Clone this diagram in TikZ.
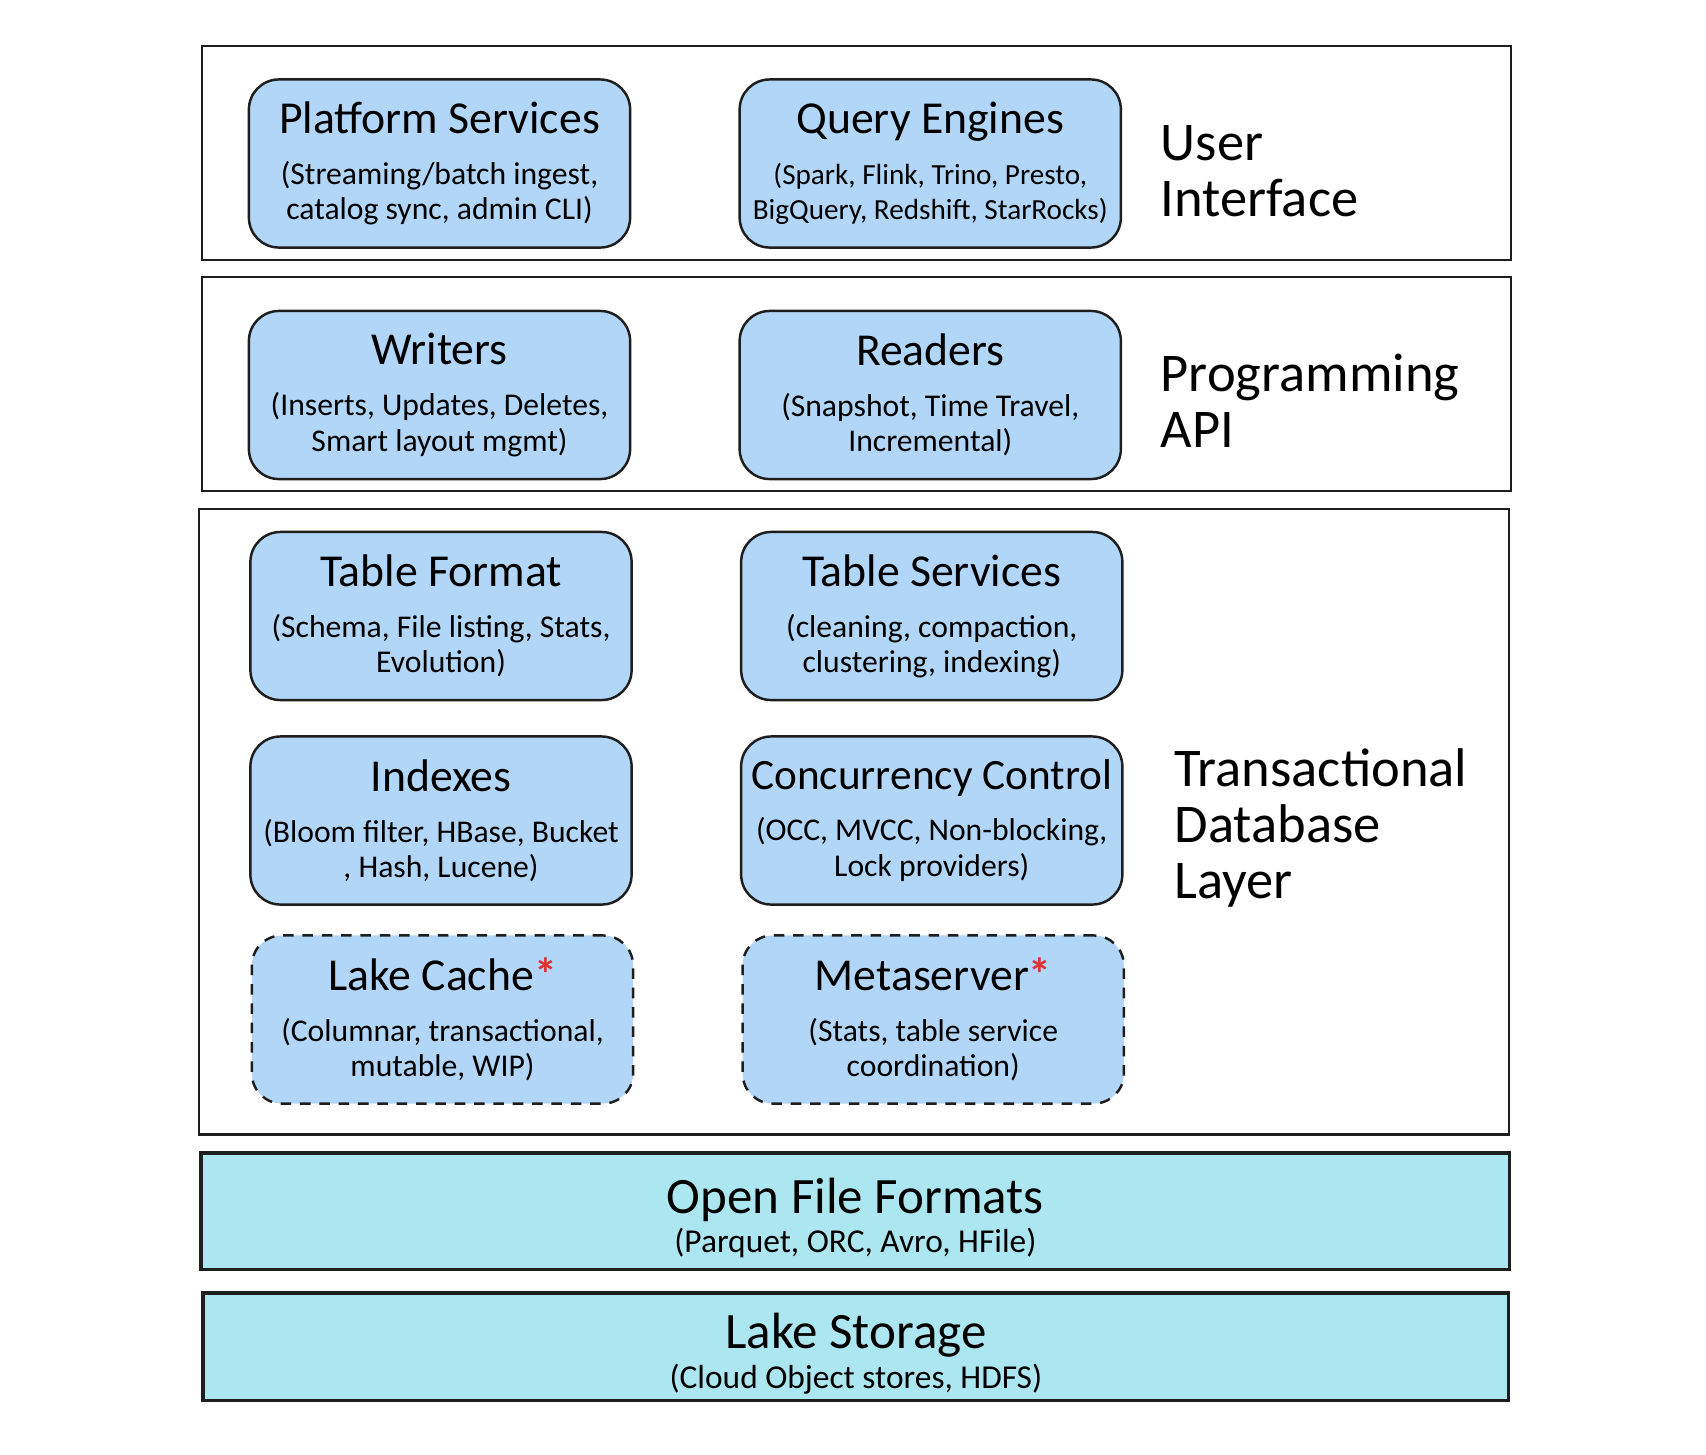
\documentclass[tikz,border=0pt]{standalone}
\usepackage{fontspec}
\setmainfont{Carlito}
\usetikzlibrary{positioning}
\definecolor{compblue}{RGB}{177,214,247}
\definecolor{basecyan}{RGB}{172,230,240}
\definecolor{inkblack}{RGB}{30,30,30}
\definecolor{starred}{RGB}{224,49,49}
\tikzstyle{layer} = [rectangle, draw=inkblack, line width=0.7pt, anchor=north west, inner sep=0pt, outer sep=0pt]
\tikzstyle{comp} = [rectangle, rounded corners=0.3cm, draw=inkblack, fill=compblue, line width=0.7pt, minimum width=3.81cm, minimum height=1.68cm, inner xsep=0pt, align=center, font=\fontsize{9}{10}\selectfont]
\tikzstyle{planned} = [comp, dashed, dash pattern=on 3pt off 2.5pt]
\tikzstyle{base} = [layer, fill=basecyan, line width=0.9pt, align=center, font=\fontsize{9.5}{11}\selectfont]
\tikzstyle{side} = [anchor=west, align=left, inner sep=0pt, font=\fontsize{15.5}{16}\selectfont]
\newcommand{\comptitle}[2][13]{{\fontsize{#1}{15}\selectfont #2}}
\newcommand{\basetitle}[1]{{\fontsize{14.5}{16}\selectfont\rule{0pt}{14pt}#1}}
\newcommand{\wip}{\textcolor{starred}{\bfseries*}}

\begin{document}
\begin{tikzpicture}[x=0.01cm, y=-0.01cm, node distance=1.07cm]
\useasboundingbox (0,0) rectangle (1706,1454);

% layers
\node (uilayer) [layer, minimum width=13.08cm, minimum height=2.14cm] at (202,46) {};
\node (apilayer) [layer, minimum width=13.08cm, minimum height=2.14cm] at (202,277) {};
\node (dblayer) [layer, minimum width=13.09cm, minimum height=6.25cm] at (199,509) {};

% user interface
\node (platform) [comp] at (439.5,163.5) {\comptitle{Platform Services}\\[4.5pt](Streaming/batch ingest,\\catalog sync, admin CLI)};
\node (queryengines) [comp, right=of platform, font=\fontsize{8.3}{10}\selectfont] {\comptitle{Query Engines}\\[4.5pt](Spark, Flink, Trino, Presto,\\BigQuery, Redshift, StarRocks)};
\node (uilabel) [side] at (1160,171) {User\\Interface};

% programming api
\node (writers) [comp] at (439.5,395) {\comptitle{Writers}\\[4.5pt](Inserts, Updates, Deletes,\\Smart layout mgmt)};
\node (readers) [comp, right=of writers] {\comptitle{Readers}\\[4.5pt](Snapshot, Time Travel,\\Incremental)};
\node (apilabel) [side] at (1160,401) {Programming\\API};

% transactional database layer
\node (tableformat) [comp] at (441,616) {\comptitle{Table Format}\\[4.5pt](Schema, File listing, Stats,\\Evolution)};
\node (tableservices) [comp, right=of tableformat] {\comptitle{Table Services}\\[4.5pt](cleaning, compaction,\\clustering, indexing)};
\node (indexes) [comp] at (441,820.5) {\comptitle{Indexes}\\[4.5pt](Bloom filter, HBase, Bucket\\, Hash, Lucene)};
\node (concurrency) [comp, right=of indexes] {\comptitle[12.3]{Concurrency Control}\\[4.5pt](OCC, MVCC, Non-blocking,\\Lock providers)};
\node (lakecache) [planned] at (442.5,1019.5) {\comptitle{Lake Cache\wip}\\[4.5pt](Columnar, transactional,\\mutable, WIP)};
\node (metaserver) [planned, right=of lakecache] {\comptitle{Metaserver\wip}\\[4.5pt](Stats, table service\\coordination)};
\node (dblabel) [side] at (1174,828) {Transactional\\Database\\Layer};

% storage
\node (fileformats) [base, minimum width=13.08cm, minimum height=1.16cm] at (201,1153) {\basetitle{Open File Formats}\\[0.3pt](Parquet, ORC, Avro, HFile)};
\node (storage) [base, minimum width=13.05cm, minimum height=1.07cm] at (203,1293) {\basetitle{Lake Storage}\\[0.3pt](Cloud Object stores, HDFS)};

\end{tikzpicture}
\end{document}
